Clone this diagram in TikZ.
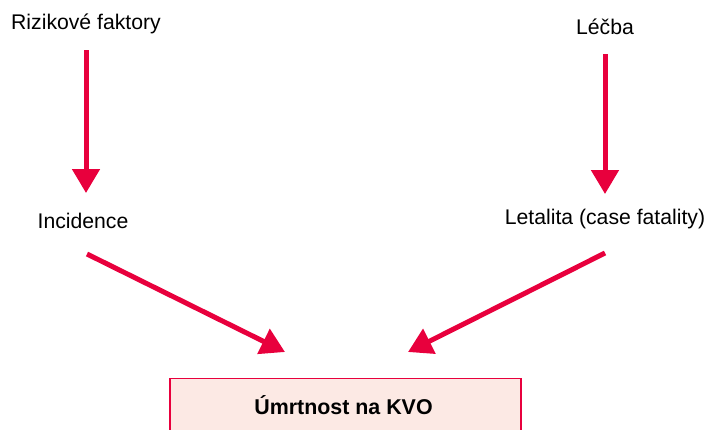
\documentclass[tikz,border=0pt]{standalone}
\usepackage{fontspec}
\setmainfont{Liberation Sans}
\usetikzlibrary{arrows.meta,calc}
\definecolor{kvored}{HTML}{E8003D}
\definecolor{kvofill}{HTML}{FCE9E4}
\begin{document}
\begin{tikzpicture}[
        x=1pt, y=-1pt,
        every node/.style = {inner sep=0pt, font=\fontsize{21.2}{25}\selectfont},
        arr/.style = {draw=kvored, line width=5pt, -{Triangle[width=27pt,length=24pt,fill=kvored]}}
    ]
    \clip (0,0) rectangle (710,429);

    \node (rf) at (86,24) {Rizikové faktory};
    \node (lecba) at (605,27) {Léčba};
    \node (inc) at (83,221) {Incidence};
    \node (let) at (605,219) {Letalita (case fatality)};
    \node[anchor=north, draw=kvored, fill=kvofill, line width=1.2pt,
          minimum width=351pt, minimum height=100pt] (kvo) at (345.5,378) {};
    \node[font=\fontsize{21.4}{25}\selectfont\bfseries] (kvotext) at (343.5,405) {Úmrtnost na KVO};

    \draw[arr] ($(rf.center)+(0,26)$) -- ($(inc.center)+(3,-28)$);
    \draw[arr] ($(lecba.center)+(0,27)$) -- ($(let.center)+(0,-25)$);
    \draw[arr] ($(inc.center)+(4,33)$) -- ($(kvo.north)+(-60.5,-26)$);
    \draw[arr] ($(let.center)+(0,34)$) -- ($(kvo.north)+(62.5,-26)$);
\end{tikzpicture}
\end{document}
